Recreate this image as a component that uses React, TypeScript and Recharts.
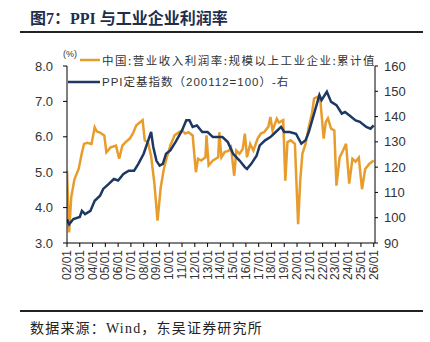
import { LineChart, Line, XAxis, YAxis } from "recharts";

const ORANGE = "#E89C2C";
const NAVY = "#1D3863";

const marginDates = [
  "2002-01", "2002-03", "2002-05", "2002-08", "2002-12", "2003-03", "2003-05", "2003-08", "2003-12",
  "2004-03", "2004-05", "2004-08", "2004-12", "2005-02", "2005-06", "2005-11", "2006-02", "2006-05",
  "2006-08", "2006-12", "2007-03", "2007-06", "2007-09", "2007-12", "2008-02", "2008-05", "2008-08",
  "2008-11", "2009-02", "2009-05", "2009-08", "2009-11", "2010-02", "2010-06", "2010-10", "2011-01",
  "2011-04", "2011-07", "2011-11", "2012-02", "2012-04", "2012-07", "2012-11", "2012-12", "2013-02",
  "2013-06", "2013-11", "2013-12", "2014-02", "2014-05", "2014-09", "2014-11", "2015-02", "2015-04",
  "2015-07", "2015-10", "2015-12", "2016-02", "2016-05", "2016-08", "2016-12", "2017-03", "2017-06",
  "2017-10", "2017-12", "2018-02", "2018-06", "2018-08", "2018-12", "2019-02", "2019-04", "2019-07",
  "2019-11", "2020-02", "2020-04", "2020-06", "2020-09", "2020-12", "2021-03", "2021-05", "2021-08",
  "2021-11", "2022-02", "2022-04", "2022-06", "2022-09", "2022-12", "2023-02", "2023-05", "2023-08",
  "2023-11", "2024-02", "2024-05", "2024-08", "2024-11", "2025-02", "2025-05", "2025-09", "2026-01",
];
const marginValues = [
  5.05, 3.3, 4.3, 4.8, 5.1, 5.55, 5.8, 5.83, 5.8,
  6.27, 6.15, 6.12, 6.04, 5.56, 5.7, 5.75, 5.38, 5.75,
  5.85, 5.95, 6.1, 6.32, 6.4, 6.47, 5.9, 5.85, 5.45,
  4.7, 3.63, 4.57, 5.1, 5.45, 5.75, 6.04, 6.13, 6.18,
  6.09, 6.13, 6.04, 5.0, 5.38, 5.33, 5.42, 6.04, 5.19,
  5.33, 5.42, 6.13, 5.42, 5.57, 5.61, 5.7, 4.9, 5.61,
  5.52, 5.66, 6.09, 5.42, 5.8, 5.61, 5.95, 6.09, 6.13,
  6.28, 6.56, 6.18, 6.51, 6.4, 6.47, 4.76, 5.85, 5.9,
  5.8, 3.53, 4.76, 5.52, 5.8, 6.28, 6.66, 7.08, 7.13,
  6.99, 5.95, 6.42, 6.52, 6.23, 6.18, 4.62, 5.42, 5.6,
  5.8, 4.68, 5.38, 5.3, 5.41, 4.52, 5.09, 5.24, 5.33,
];

const ppiDates = [
  "2002-01", "2002-03", "2002-07", "2003-01", "2003-03", "2003-06", "2003-11", "2004-03", "2004-08",
  "2004-11", "2005-04", "2005-09", "2006-01", "2006-06", "2006-11", "2007-04", "2007-08", "2008-01",
  "2008-04", "2008-08", "2008-10", "2009-01", "2009-04", "2009-07", "2009-10", "2010-02", "2010-07",
  "2011-01", "2011-05", "2011-08", "2011-11", "2012-03", "2012-08", "2013-01", "2013-06", "2014-03",
  "2014-08", "2015-01", "2015-07", "2015-12", "2016-02", "2016-06", "2016-11", "2017-02", "2017-07",
  "2017-12", "2018-04", "2018-10", "2019-01", "2019-06", "2019-12", "2020-05", "2020-09", "2020-12",
  "2021-05", "2021-10", "2021-12", "2022-05", "2022-09", "2023-02", "2023-07", "2023-10", "2024-02",
  "2024-08", "2024-12", "2025-06", "2025-10", "2026-01",
];
const ppiValues = [
  99.4, 97.4, 99.5, 100.3, 102.7, 101.4, 102.7, 106.7, 108.7,
  111.4, 113.3, 115.3, 114.7, 117.3, 118.6, 118.6, 121.3, 125.3,
  129.0, 133.9, 128.0, 122.5, 120.6, 121.3, 125.3, 126.6, 130.0,
  134.5, 138.5, 138.5, 135.9, 136.5, 133.9, 133.9, 131.9, 131.9,
  129.9, 125.3, 122.6, 120.0, 119.3, 121.3, 124.5, 128.6, 130.6,
  131.9, 133.5, 135.9, 133.9, 133.9, 133.2, 129.3, 130.6, 133.9,
  141.2, 148.5, 146.5, 149.8, 145.8, 144.5, 141.2, 141.8, 140.5,
  138.5, 137.9, 135.9, 135.2, 136.5,
];

const yearTicks = Array.from({ length: 25 }, (_, i) => 2002 + i);
const leftTicks = [3, 4, 5, 6, 7, 8];
const rightTicks = [90, 100, 110, 120, 130, 140, 150, 160];

const toYear = (d: string) => {
  const [y, m] = d.split("-").map(Number);
  return y + (m - 1) / 12;
};

const marginData = marginDates.map((d, i) => ({ t: toYear(d), v: marginValues[i] }));
const ppiData = ppiDates.map((d, i) => ({ t: toYear(d), v: ppiValues[i] }));

const SANS = "'Liberation Sans', Arial, sans-serif";
const CJK = "'Noto Sans CJK SC', sans-serif";

function YearTick({ x, y, payload }: any) {
  const label = String(payload.value % 100).padStart(2, "0") + "/01";
  return (
    <text
      x={x}
      y={y}
      transform={`rotate(-90 ${x} ${y})`}
      textAnchor="end"
      dominantBaseline="central"
      fontSize={12}
      fontFamily={SANS}
      fill="#333"
    >
      {label}
    </text>
  );
}

export default function App() {
  return (
    <div
      style={{
        position: "absolute",
        left: 0,
        top: 0,
        width: 430,
        height: 342,
        background: "#fff",
        overflow: "hidden",
      }}
    >
      <div
        style={{
          position: "absolute",
          left: 30,
          top: 5,
          fontFamily: "'Liberation Serif', 'Noto Sans CJK SC', serif",
          fontWeight: 700,
          fontSize: 16,
          color: "#1F2D4D",
          whiteSpace: "nowrap",
        }}
      >
        图7：PPI 与工业企业利润率
      </div>
      <div style={{ position: "absolute", left: 20, top: 31, width: 403, height: 2, background: "#222" }} />

      <LineChart
        width={430}
        height={342}
        margin={{ top: 66, right: 5, bottom: 59, left: 17 }}
      >
        <XAxis
          dataKey="t"
          type="number"
          domain={[2002, 2026.1]}
          ticks={yearTicks}
          interval={0}
          height={40}
          tick={<YearTick />}
          tickSize={4}
          tickMargin={3}
          axisLine={{ stroke: "#000" }}
          tickLine={{ stroke: "#000" }}
          allowDataOverflow
        />
        <YAxis
          yAxisId="left"
          orientation="left"
          width={50}
          domain={[3, 8]}
          ticks={leftTicks}
          tickFormatter={(v: number) => v.toFixed(1)}
          tick={{ fontSize: 13, fill: "#333", fontFamily: SANS }}
          tickSize={4}
          tickMargin={10}
          axisLine={{ stroke: "#000" }}
          tickLine={{ stroke: "#000" }}
        />
        <YAxis
          yAxisId="right"
          orientation="right"
          width={50}
          domain={[90, 160]}
          ticks={rightTicks}
          tick={{ fontSize: 13, fill: "#333", fontFamily: SANS }}
          tickSize={3}
          tickMargin={6}
          axisLine={{ stroke: "#000" }}
          tickLine={{ stroke: "#000" }}
        />
        <Line
          yAxisId="left"
          data={marginData}
          dataKey="v"
          stroke={ORANGE}
          strokeWidth={2.5}
          dot={false}
          type="linear"
          isAnimationActive={false}
        />
        <Line
          yAxisId="right"
          data={ppiData}
          dataKey="v"
          stroke={NAVY}
          strokeWidth={2.5}
          dot={false}
          type="linear"
          isAnimationActive={false}
        />
      </LineChart>

      <svg style={{ position: "absolute", left: 0, top: 0 }} width={430} height={100}>
        <line x1={80} y1={60} x2={100} y2={60} stroke={ORANGE} strokeWidth={2.5} />
        <line x1={68} y1={82} x2={100} y2={82} stroke={NAVY} strokeWidth={2.5} />
        <text x={63} y={57} fontSize={9} fontFamily={SANS} fill="#333">(%)</text>
        <text
          x={102}
          y={60}
          dominantBaseline="central"
          fontSize={11.5}
          letterSpacing={1.5}
          fontFamily={CJK}
          fill="#333"
        >
          中国:营业收入利润率:规模以上工业企业:累计值
        </text>
        <text
          x={102}
          y={82}
          dominantBaseline="central"
          fontSize={11.5}
          letterSpacing={1}
          fontFamily={`${SANS.replace(", sans-serif", "")}, ${CJK}`}
          fill="#333"
        >
          PPI定基指数（200112=100）-右
        </text>
      </svg>

      <div style={{ position: "absolute", left: 20, top: 310, width: 403, height: 2, background: "#222" }} />
      <div
        style={{
          position: "absolute",
          left: 30,
          top: 317,
          fontFamily: "'Liberation Serif', 'Noto Sans CJK SC', serif",
          fontSize: 14,
          letterSpacing: 1.2,
          color: "#222",
          whiteSpace: "nowrap",
        }}
      >
        数据来源：Wind，东吴证券研究所
      </div>
    </div>
  );
}
